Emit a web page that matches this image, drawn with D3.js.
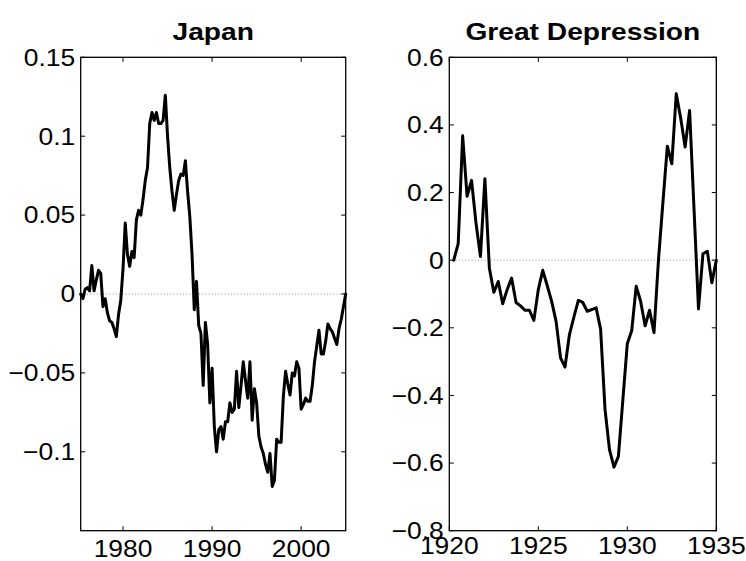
<!DOCTYPE html>
<html>
<head>
<meta charset="utf-8">
<script src="https://cdn.jsdelivr.net/npm/d3@7"></script>
<style>
  body { margin: 0; background: #fff; }
  text { font-family: "Liberation Sans", Arial, Helvetica, sans-serif; fill: #000; }
</style>
</head>
<body>
<svg id="chart" width="746" height="561"></svg>
<script>
// Japan: quarterly deviation series, first quarter 1975.25
const japanStart = 1975.25;
const japanValues = [
  0.000, -0.003, 0.003, 0.004, 0.002, 0.018, 0.002, 0.009, 0.015, 0.013,
  -0.008, -0.003, -0.012, -0.017, -0.018, -0.022, -0.027, -0.013, -0.004, 0.016,
  0.045, 0.025, 0.0175, 0.027, 0.023, 0.047, 0.053, 0.050, 0.060, 0.072,
  0.080, 0.108, 0.115, 0.110, 0.115, 0.108, 0.108, 0.110, 0.126, 0.100,
  0.080, 0.065, 0.053, 0.063, 0.072, 0.076, 0.075, 0.0845, 0.065, 0.049,
  0.025, -0.010, 0.008, -0.020, -0.025, -0.058, -0.018, -0.032, -0.069, -0.047,
  -0.084, -0.100, -0.086, -0.084, -0.092, -0.081, -0.081, -0.069, -0.075, -0.073,
  -0.049, -0.072, -0.058, -0.043, -0.055, -0.066, -0.043, -0.080, -0.060, -0.069,
  -0.090, -0.097, -0.101, -0.108, -0.113, -0.101, -0.122, -0.118, -0.092, -0.094,
  -0.094, -0.065, -0.049, -0.057, -0.064, -0.050, -0.052, -0.043, -0.047, -0.073,
  -0.070, -0.066, -0.068, -0.068, -0.058, -0.043, -0.033, -0.023, -0.038, -0.038,
  -0.030, -0.019, -0.022, -0.024, -0.028, -0.032, -0.022, -0.016, -0.008, 0.000
];
const japanXTicks = [1980, 1990, 2000];
const japanYTicks = [-0.1, -0.05, 0, 0.05, 0.1, 0.15];
const japanYLabels = ["\u22120.1", "\u22120.05", "0", "0.05", "0.1", "0.15"];

// Great Depression: quarterly deviation series, first quarter 1920.25
const gdStart = 1920.25;
const gdValues = [
  0.000, 0.049, 0.368, 0.189, 0.236, 0.110, 0.011, 0.241, -0.023, -0.095,
  -0.063, -0.129, -0.087, -0.053, -0.125, -0.135, -0.148, -0.148, -0.178, -0.087,
  -0.030, -0.075, -0.122, -0.181, -0.289, -0.316, -0.220, -0.168, -0.119, -0.125,
  -0.151, -0.146, -0.141, -0.204, -0.442, -0.560, -0.612, -0.580, -0.413, -0.247,
  -0.208, -0.077, -0.122, -0.194, -0.148, -0.214, 0.000, 0.170, 0.337, 0.285,
  0.492, 0.420, 0.335, 0.443, 0.150, -0.144, 0.019, 0.026, -0.067, 0.000
];
const gdXTicks = [1920, 1925, 1930, 1935];
const gdYTicks = [-0.8, -0.6, -0.4, -0.2, 0, 0.2, 0.4, 0.6];
const gdYLabels = ["\u22120.8", "\u22120.6", "\u22120.4", "\u22120.2", "0", "0.2", "0.4", "0.6"];

const svg = d3.select("#chart");
const TICK_FONT = 23.8, TITLE_FONT = 24.5, STRETCH = 1.11, TICK_LEN = 4.5;

function label(g, x, y, str, anchor, size, bold, sx) {
  g.append("text")
    .attr("transform", `translate(${x},${y}) scale(${sx},1)`)
    .attr("text-anchor", anchor)
    .style("font-size", size + "px")
    .style("font-weight", bold ? "bold" : "normal")
    .text(str);
}

function panel(opts) {
  const { left, right, top, bottom, xDomain, yDomain, start, values,
          xTicks, yTicks, yLabels, title, xLabelBase } = opts;
  const x = d3.scaleLinear().domain(xDomain).range([left, right]);
  const y = d3.scaleLinear().domain(yDomain).range([bottom, top]);
  const g = svg.append("g");

  // dotted zero reference
  g.append("line")
    .attr("x1", left).attr("x2", right)
    .attr("y1", y(0)).attr("y2", y(0))
    .attr("stroke", "#888").attr("stroke-width", 0.9)
    .attr("stroke-dasharray", "1 2.2");

  // series
  const line = d3.line()
    .x((d, i) => x(start + i * 0.25))
    .y(d => y(d));
  g.append("path")
    .datum(values)
    .attr("d", line)
    .attr("fill", "none")
    .attr("stroke", "#000")
    .attr("stroke-width", 3)
    .attr("stroke-linejoin", "round")
    .attr("stroke-linecap", "round");

  // box
  g.append("rect")
    .attr("x", left).attr("y", top)
    .attr("width", right - left).attr("height", bottom - top)
    .attr("fill", "none").attr("stroke", "#000").attr("stroke-width", 1.3);

  // inward ticks on all four sides
  xTicks.forEach(t => {
    const px = x(t);
    g.append("line").attr("x1", px).attr("x2", px).attr("y1", bottom).attr("y2", bottom - TICK_LEN)
      .attr("stroke", "#000").attr("stroke-width", 1);
    g.append("line").attr("x1", px).attr("x2", px).attr("y1", top).attr("y2", top + TICK_LEN)
      .attr("stroke", "#000").attr("stroke-width", 1);
    label(g, px, xLabelBase, String(t), "middle", TICK_FONT, false, STRETCH);
  });
  yTicks.forEach((t, i) => {
    const py = y(t);
    g.append("line").attr("x1", left).attr("x2", left + TICK_LEN).attr("y1", py).attr("y2", py)
      .attr("stroke", "#000").attr("stroke-width", 1);
    g.append("line").attr("x1", right).attr("x2", right - TICK_LEN).attr("y1", py).attr("y2", py)
      .attr("stroke", "#000").attr("stroke-width", 1);
    label(g, left - 5.5, py + TICK_FONT * 0.35, yLabels[i], "end", TICK_FONT, false, STRETCH);
  });

  label(g, (left + right) / 2, 40, title, "middle", TITLE_FONT, true, 1.15);
}

panel({
  left: 80.7, right: 345.7, top: 57.3, bottom: 530.7,
  xDomain: [1975.25, 2005], yDomain: [-0.15, 0.15],
  start: japanStart, values: japanValues,
  xTicks: japanXTicks, yTicks: japanYTicks, yLabels: japanYLabels,
  title: "Japan", xLabelBase: 557
});

panel({
  left: 449.3, right: 716.3, top: 57.3, bottom: 530.7,
  xDomain: [1920, 1935], yDomain: [-0.8, 0.6],
  start: gdStart, values: gdValues,
  xTicks: gdXTicks, yTicks: gdYTicks, yLabels: gdYLabels,
  title: "Great Depression", xLabelBase: 554
});
</script>
</body>
</html>
